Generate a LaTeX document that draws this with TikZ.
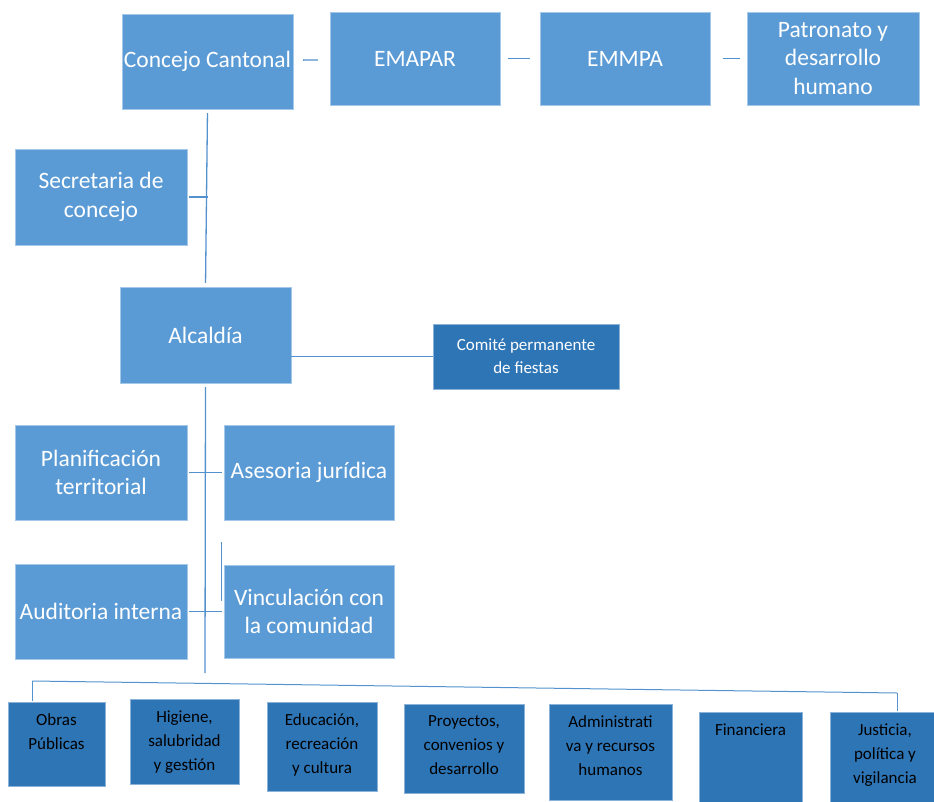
\documentclass[tikz,border=0pt]{standalone}
\usepackage{fontspec}
\setmainfont{Carlito}

\definecolor{boxblue}{RGB}{91,155,213}
\definecolor{deptblue}{RGB}{46,117,182}
\definecolor{linkblue}{RGB}{84,146,206}

% text of the department boxes sits at the top of the box
\newcommand{\depttext}[2]{\parbox[c][#1pt][t]{96pt}{\centering\vspace{12pt}#2}}

\begin{document}
\begin{tikzpicture}[x=1pt, y=-1pt,
  unit/.style={fill=boxblue, draw=boxblue!55!white, line width=0.4pt, text=white,
    align=center, inner sep=1pt, font=\fontsize{23.5}{28.5}\selectfont},
  dept/.style={fill=deptblue, draw=deptblue!55!white, line width=0.4pt, text=black,
    inner sep=0pt, font=\fontsize{17}{24}\selectfont},
  link/.style={draw=linkblue, line width=1.3pt}]

  \useasboundingbox (0,0) rectangle (934,802);

  % Draw the top row (council and companies)
  \node[unit, minimum width=171pt, minimum height=95pt] (cc) at (207.5,61.5) {Concejo Cantonal};
  \node[unit, minimum width=170pt, minimum height=93pt] (emapar) at (415,58.5) {EMAPAR};
  \node[unit, minimum width=170pt, minimum height=93pt] (emmpa) at (625,58.5) {EMMPA};
  \node[unit, minimum width=172pt, minimum height=93pt] (pat) at (833,58.5) {Patronato y\\desarrollo\\humano};

  \draw[link, shorten <=10pt, shorten >=12pt] (cc) -- (emapar);
  \draw[link, shorten <=8pt, shorten >=10pt] (emapar) -- (emmpa);
  \draw[link, shorten <=13pt, shorten >=7pt] (emmpa) -- (pat);

  % Secretary and mayor's office
  \node[unit, minimum width=172pt, minimum height=96pt] (sec) at (101,197) {Secretaria de\\concejo};
  \node[unit, minimum width=171pt, minimum height=96pt] (alc) at (205.5,335) {Alcaldía};
  \node[unit, fill=deptblue, draw=deptblue!55!white, minimum width=186pt, minimum height=65pt,
    font=\fontsize{17}{23}\selectfont] (com) at (526,356.5) {Comité permanente\\de fiestas};

  \draw[link, shorten <=4pt, shorten >=4pt] (cc.south) -- (alc.north);
  \draw[link, shorten <=2pt] (sec.east) -- (sec.east -| cc.south);
  \draw[link] (com.west) -- (com.west -| alc.east);

  % Advisory units
  \node[unit, minimum width=172pt, minimum height=95pt] (plan) at (101,472.5) {Planificación\\territorial};
  \node[unit, minimum width=170pt, minimum height=95pt] (ases) at (309,472.5) {Asesoria jurídica};
  \node[unit, minimum width=172pt, minimum height=95pt] (aud) at (101,611.5) {Auditoria interna};
  \node[unit, minimum width=170pt, minimum height=93pt] (vinc) at (309,611.5) {Vinculación con\\la comunidad};

  \coordinate (drop) at (205,673);
  \draw[link, shorten <=4pt] (alc.south) -- (drop);
  \draw[link, shorten <=2pt, shorten >=2pt] (plan) -- (ases);
  \draw[link, shorten <=2pt, shorten >=2pt] (aud) -- (vinc);
  \draw[link] ([xshift=-2pt, yshift=23pt]vinc.north west) -- ++(0,59);

  % Departments
  \node[dept, minimum width=97pt, minimum height=84pt] (obras) at (56.5,744) {\depttext{84}{Obras\\Públicas}};
  \node[dept, minimum width=109pt, minimum height=85pt] (hig) at (184.5,741.5) {\depttext{85}{Higiene,\\salubridad\\y gestión}};
  \node[dept, minimum width=110pt, minimum height=89pt] (edu) at (322,746.5) {\depttext{89}{Educación,\\recreación\\y cultura}};
  \node[dept, minimum width=120pt, minimum height=89pt] (proy) at (464,748.5) {\depttext{89}{Proyectos,\\convenios y\\desarrollo}};
  \node[dept, minimum width=123pt, minimum height=96pt] (adm) at (610.5,752) {\depttext{96}{Administrati\\va y recursos\\humanos}};
  \node[dept, minimum width=103pt, minimum height=100pt] (fin) at (750.5,762) {\depttext{100}{Financiera}};
  \node[dept, minimum width=110pt, minimum height=100pt] (jus) at (885,762) {\depttext{100}{Justicia,\\política y\\vigilancia}};

  \coordinate (busl) at (32,681);
  \coordinate (busr) at (897,693);
  \draw[link, line width=1pt] (busl) -- (busr);
  \draw[link, line width=1pt, shorten >=1pt] (busl) -- (busl |- obras.north);
  \draw[link, line width=1pt, shorten >=1pt] (busr) -- (busr |- jus.north);

\end{tikzpicture}
\end{document}
